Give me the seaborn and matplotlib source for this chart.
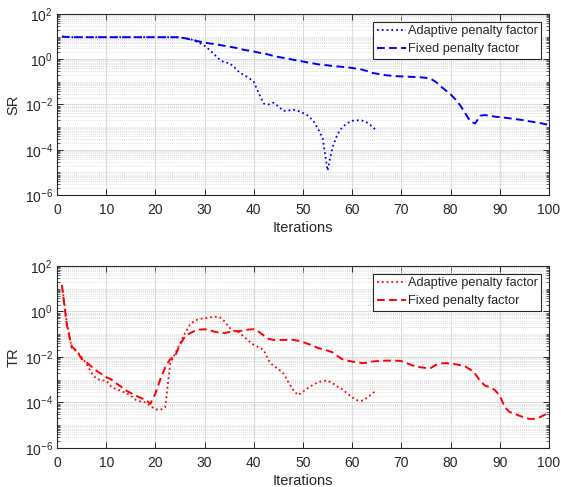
import numpy as np
import pandas as pd
import matplotlib
matplotlib.use("Agg")
import matplotlib.pyplot as plt
import matplotlib.ticker as mticker
import seaborn as sns

# ---------------- data ----------------
iters_adaptive = list(range(1, 66))
iters_fixed = list(range(1, 101))

sr_adaptive = [10.0, 9.6] + [9.4] * 22 + [
    9.1, 8.5, 7.8, 6.6, 5.2, 3.9, 2.6, 1.6, 1.0, 0.72,
    0.68, 0.45, 0.27, 0.20, 0.15, 0.10, 0.032, 0.011, 0.010, 0.012,
    8.3e-3, 5.2e-3, 5.4e-3, 5.9e-3, 5.2e-3, 4.2e-3, 3.2e-3, 2.0e-3, 8.9e-4, 3.2e-4,
    1.2e-5, 1.3e-4, 4.8e-4, 1.0e-3, 1.5e-3, 1.9e-3, 2.0e-3, 1.95e-3, 1.6e-3, 1.1e-3,
    6.8e-4]

sr_fixed = [10.0, 9.6] + [9.4] * 22 + [
    9.3, 8.5, 7.6, 6.8, 6.0, 5.5, 5.0, 4.7, 4.3, 3.9,
    3.6, 3.3, 2.95, 2.6, 2.4, 2.2, 1.95, 1.8, 1.6, 1.4,
    1.26, 1.15, 1.05, 0.95, 0.87, 0.79, 0.72, 0.66, 0.60, 0.56,
    0.54, 0.50, 0.48, 0.46, 0.44, 0.41, 0.38, 0.35, 0.30, 0.25,
    0.23, 0.21, 0.195, 0.186, 0.178, 0.174, 0.170, 0.166, 0.162, 0.158,
    0.151, 0.135, 0.10, 0.063, 0.042, 0.028, 0.0166, 8.9e-3, 4.0e-3, 1.8e-3,
    1.45e-3, 3.2e-3, 3.4e-3, 3.2e-3, 2.9e-3, 2.75e-3, 2.6e-3, 2.45e-3, 2.3e-3, 2.14e-3,
    2.0e-3, 1.8e-3, 1.66e-3, 1.55e-3, 1.38e-3, 1.26e-3]

tr_adaptive = [
    14.5, 0.32, 0.025, 0.018, 0.010, 5.0e-3, 2.0e-3, 1.1e-3, 9.5e-4, 9.0e-4,
    5.0e-4, 3.8e-4, 3.3e-4, 2.6e-4, 2.0e-4, 1.3e-4, 1.1e-4, 1.0e-4, 7.0e-5, 5.0e-5,
    4.7e-5, 6.3e-5, 5.0e-3, 0.014, 0.040, 0.11, 0.26, 0.40, 0.47, 0.50,
    0.55, 0.59, 0.575, 0.38, 0.20, 0.14, 0.12, 0.079, 0.050, 0.034,
    0.027, 0.020, 7.1e-3, 4.0e-3, 3.0e-3, 1.9e-3, 8.0e-4, 3.5e-4, 2.1e-4, 3.0e-4,
    4.3e-4, 5.9e-4, 7.6e-4, 8.9e-4, 9.1e-4, 7.1e-4, 5.0e-4, 3.8e-4, 2.5e-4, 1.66e-4,
    1.26e-4, 1.2e-4, 1.6e-4, 2.4e-4, 3.5e-4]

tr_fixed = [
    14.5, 0.25, 0.028, 0.019, 8.3e-3, 5.8e-3, 3.8e-3, 2.5e-3, 1.8e-3, 1.3e-3,
    1.05e-3, 7.0e-4, 5.0e-4, 3.4e-4, 2.6e-4, 2.0e-4, 1.6e-4, 1.3e-4, 8.9e-5, 2.5e-4,
    1.05e-3, 3.5e-3, 8.0e-3, 0.011, 0.035, 0.079, 0.11, 0.14, 0.16, 0.166,
    0.15, 0.13, 0.117, 0.112, 0.126, 0.135, 0.138, 0.148, 0.162, 0.166,
    0.13, 0.089, 0.063, 0.056, 0.056, 0.056, 0.057, 0.057, 0.052, 0.045,
    0.038, 0.032, 0.025, 0.022, 0.019, 0.016, 0.011, 7.9e-3, 6.9e-3, 6.3e-3,
    5.9e-3, 5.4e-3, 5.6e-3, 6.3e-3, 6.6e-3, 6.8e-3, 6.9e-3, 6.9e-3, 6.9e-3, 6.6e-3,
    5.4e-3, 4.5e-3, 3.8e-3, 3.5e-3, 3.3e-3, 3.3e-3, 4.5e-3, 5.2e-3, 5.4e-3, 5.2e-3,
    4.8e-3, 4.3e-3, 3.8e-3, 2.8e-3, 1.8e-3, 8.9e-4, 5.5e-4, 4.7e-4, 3.5e-4, 2.0e-4,
    6.3e-5, 3.8e-5, 3.2e-5, 2.6e-5, 2.2e-5, 1.9e-5, 1.9e-5, 2.2e-5, 2.8e-5, 3.5e-5]

series_labels = ["Adaptive penalty factor", "Fixed penalty factor"]
x_label = "Iterations"
y_labels = ["SR", "TR"]
x_ticks = [0, 10, 20, 30, 40, 50, 60, 70, 80, 90, 100]

# ---------------- style ----------------
sns.set_theme(style="white")
plt.rcParams["font.family"] = ["Liberation Sans", "DejaVu Sans"]
plt.rcParams["mathtext.fontset"] = "custom"
plt.rcParams["mathtext.rm"] = "Liberation Sans"
plt.rcParams["mathtext.it"] = "Liberation Sans:italic"
plt.rcParams["mathtext.bf"] = "Liberation Sans:bold"

ink = "#262626"
fig = plt.figure(figsize=(5.61, 4.87), dpi=100)
ax_top = fig.add_axes([0.1016, 0.5996, 0.877, 0.3717])
ax_bot = fig.add_axes([0.1016, 0.0801, 0.877, 0.3737])

panels = [
    (ax_top, sr_adaptive, sr_fixed, "blue", y_labels[0]),
    (ax_bot, tr_adaptive, tr_fixed, "red", y_labels[1]),
]

for ax, ya, yf, col, ylab in panels:
    df_a = pd.DataFrame({"it": iters_adaptive, "val": ya})
    df_f = pd.DataFrame({"it": iters_fixed, "val": yf})
    sns.lineplot(data=df_a, x="it", y="val", ax=ax, color=col, linestyle=":",
                 linewidth=1.3, label=series_labels[0], errorbar=None, sort=False)
    sns.lineplot(data=df_f, x="it", y="val", ax=ax, color=col, linestyle=(0, (4, 2.2)),
                 linewidth=1.4, label=series_labels[1], errorbar=None, sort=False)
    ax.set_yscale("log")
    ax.set_xlim(0, 100)
    ax.set_ylim(1e-6, 1e2)
    ax.set_xticks(x_ticks)
    ax.yaxis.set_major_locator(mticker.FixedLocator([1e-6, 1e-4, 1e-2, 1e0, 1e2]))
    ax.yaxis.set_major_formatter(mticker.LogFormatterMathtext())
    ax.yaxis.set_minor_locator(mticker.LogLocator(base=10, subs=np.arange(1, 10), numticks=50))
    ax.yaxis.set_minor_formatter(mticker.NullFormatter())
    ax.grid(True, which="major", axis="both", color="#dcdcdc", linewidth=0.8, linestyle="-")
    ax.grid(True, which="minor", axis="y", color="#d4d4d4", linewidth=0.6, linestyle=(0, (1, 1.5)))
    ax.set_axisbelow(True)
    for s in ax.spines.values():
        s.set_color(ink)
        s.set_linewidth(0.8)
        s.set_visible(True)
    ax.tick_params(which="both", direction="in", top=True, right=True,
                   colors=ink, labelsize=10, labelcolor=ink)
    ax.tick_params(which="major", length=4, width=0.7, bottom=True, left=True)
    ax.tick_params(axis="x", which="major", pad=6)
    ax.tick_params(axis="y", which="major", pad=3)
    ax.tick_params(which="minor", length=2, width=0.5, left=True, right=True)
    ax.set_xlabel(x_label, fontsize=10.5, color=ink, labelpad=3)
    ax.set_ylabel(ylab, fontsize=10.5, color=ink, labelpad=3)
    leg = ax.legend(loc="upper right", frameon=True, fancybox=False, edgecolor=ink,
                    framealpha=1, fontsize=9.2, handlelength=2.3, handletextpad=0.1,
                    borderaxespad=0.6, labelspacing=0.45, borderpad=0.3)
    leg.get_frame().set_linewidth(0.8)

fig.savefig("out.png", dpi=100)
